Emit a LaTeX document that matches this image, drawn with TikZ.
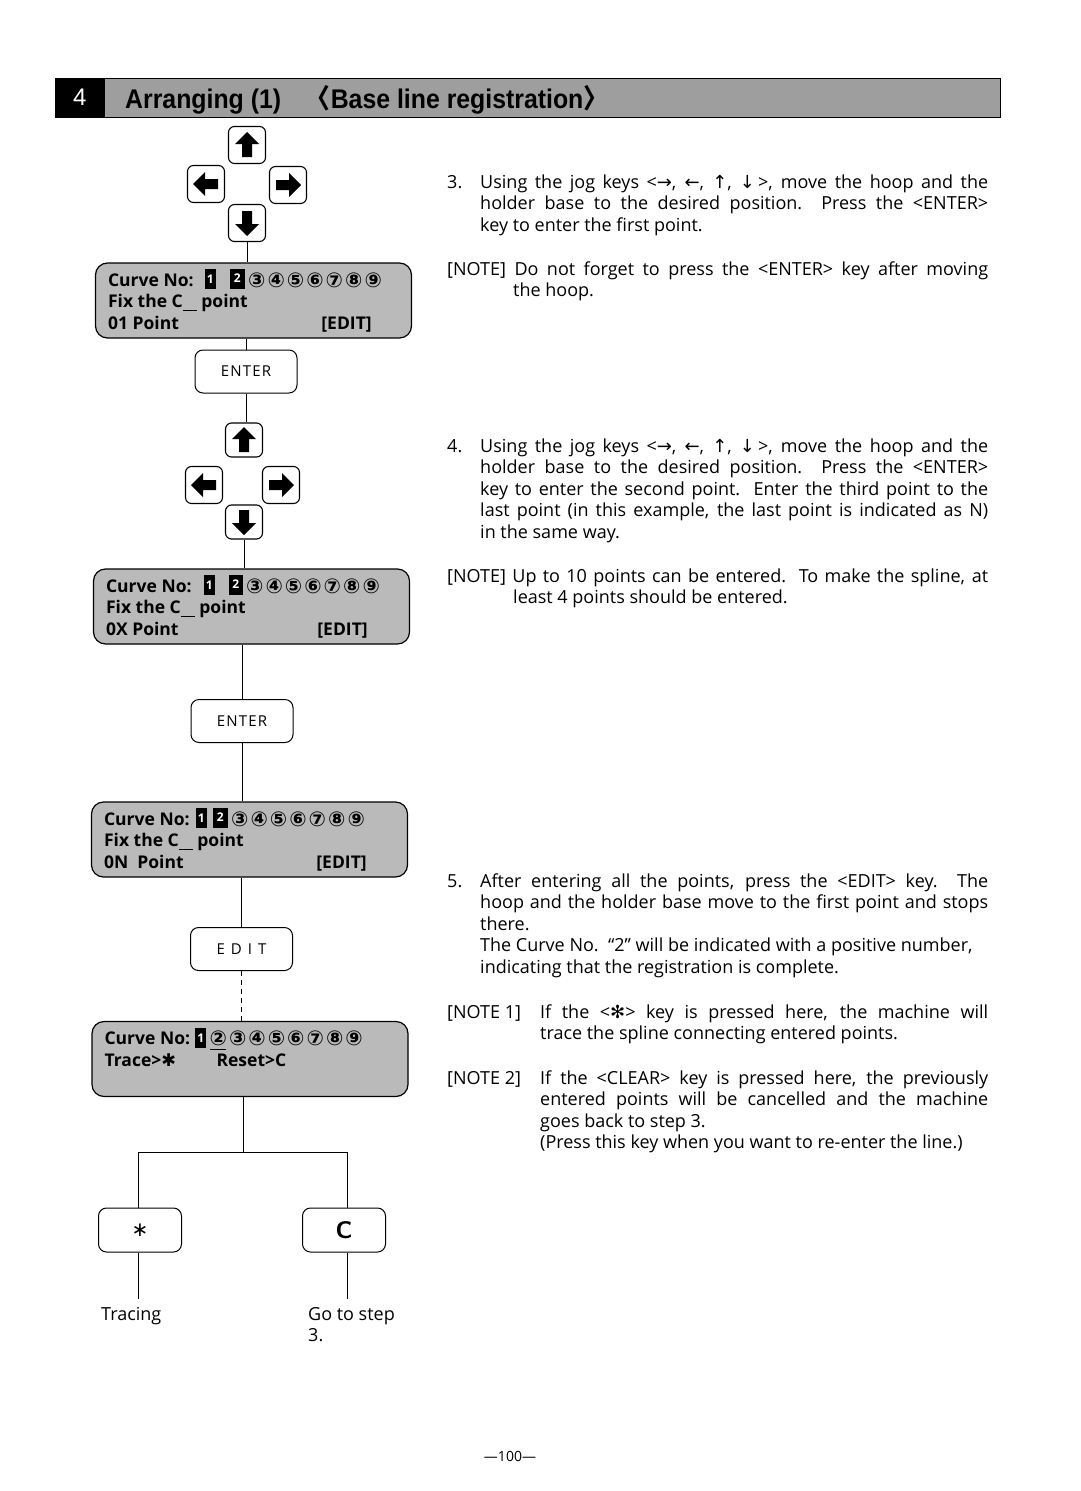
\documentclass[tikz,border=0pt]{standalone}
\usepackage{fontspec}
\setmainfont{Open Sans}
\newfontfamily\sym{DejaVu Sans}
\newfontfamily\tfont{Liberation Sans}
\newfontfamily\cjk{Noto Sans CJK SC}
\hyphenpenalty=10000
\exhyphenpenalty=10000
\tikzset{
  key/.style={draw, line width=1.1pt, rounded corners=6pt, minimum width=37pt, minimum height=37pt, inner sep=0pt},
  keyb/.style={key, minimum height=34pt},
  btn/.style={draw, line width=1pt, rounded corners=8pt, minimum width=102pt, minimum height=43pt, inner sep=0pt,
    font=\fontsize{15}{15}\selectfont\addfontfeatures{LetterSpace=8}},
  btnb/.style={draw, line width=1pt, rounded corners=8pt, minimum width=83pt, minimum height=44pt, inner sep=0pt},
  lcd/.style={draw, line width=1.2pt, rounded corners=12pt, fill=black!27, minimum width=316pt, minimum height=75pt, inner sep=0pt},
  wire/.style={line width=0.9pt},
  body/.style={font=\fontsize{18}{21.5}\selectfont, anchor=north west, inner sep=0pt, align=justify},
  lbl/.style={font=\fontsize{18}{21.5}\selectfont, anchor=north west, inner sep=0pt},
  lcdtxt/.style={font=\fontsize{17.5}{17.5}\bfseries\selectfont, anchor=base west, inner sep=0pt},
  inv/.style={font=\fontsize{12}{12}\bfseries\selectfont, text=white, inner sep=0pt},
  circ/.style={font=\sym\bfseries\fontsize{20.5}{20.5}\selectfont, anchor=base west, inner sep=0pt},
  plain/.style={font=\fontsize{18}{21.5}\selectfont, anchor=north west, inner xsep=0pt, inner ysep=6pt, align=left},
}
\newcommand\jogarr[2]{\fill[shift={(#1.center)}, rotate=#2] (0,-13) -- (-12,-1) -- (-5,-1) -- (-5,12) -- (5,12) -- (5,-1) -- (12,-1) -- cycle;}
\newcommand\circrow[4]{\foreach \d [count=\i from 0] in {#4} {\node[circ] (#1\i) at ({#2+\i*19.4},#3) {\d};}}
\begin{document}
\begin{tikzpicture}[x=1pt,y=-1pt]
\useasboundingbox (0,0) rectangle (1080,1491);
\fill[white] (0,0) rectangle (1080,1491);

% ---------- title bar
\node[draw, line width=0.8pt, fill=black!38, minimum width=945pt, minimum height=39pt, inner sep=0pt] (bar) at (527.5,97.5) {};
\node[fill=black, minimum width=50pt, minimum height=39pt, anchor=west, inner sep=0pt,
      font=\tfont\fontsize{24}{24}\selectfont, text=white] (num) at (bar.west) {4};
\node[anchor=base west, inner sep=0pt, font=\tfont\bfseries\fontsize{27}{27}\selectfont, xscale=0.92] (ttl) at (125,108)
  {Arranging (1)\quad{\cjk 〈}Base line registration{\cjk 〉}};

% ---------- jog keys 1
\node[key] (u1) at (247,145) {};
\node[key] (l1) at (206,184) {};
\node[key] (r1) at (288,185) {};
\node[key] (d1) at (247,223) {};
\jogarr{u1}{0}\jogarr{l1}{90}\jogarr{r1}{-90}\jogarr{d1}{180}

% ---------- LCD 1
\node[lcd] (lcd1) at (253.5,300.5) {};
\begin{scope}[shift={(lcd1.north west)}]
  \node[lcdtxt] (a1) at (13,24) {Curve No:};
  \fill (110,7) rectangle (121,27); \node[inv] (a1x) at (115.5,17) {1};
  \fill (135,7) rectangle (150,27); \node[inv] (a1y) at (142.5,16) {2};
  \circrow{a1c}{153}{25}{③,④,⑤,⑥,⑦,⑧,⑨}
  \node[lcdtxt] (a2) at (13,45) {Fix the C\rule[-4pt]{14pt}{1.4pt}\ point};
  \node[lcdtxt] (a3) at (13,67) {01 Point};
  \node[lcdtxt, anchor=base east] (a4) at (277,67) {[EDIT]};
\end{scope}

\node[btn] (ent1) at (246,371.5) {ENTER};

% ---------- jog keys 2
\node[keyb] (u2) at (244,440) {};
\node[key] (l2) at (204,485) {};
\node[key] (r2) at (281,485) {};
\node[keyb] (d2) at (244,522) {};
\jogarr{u2}{0}\jogarr{l2}{90}\jogarr{r2}{-90}\jogarr{d2}{180}

% ---------- LCD 2
\node[lcd] (lcd2) at (251.5,606.5) {};
\begin{scope}[shift={(lcd2.north west)}]
  \node[lcdtxt] (b1) at (13,24) {Curve No:};
  \fill (111,7) rectangle (122,27); \node[inv] (b1x) at (116.5,17) {1};
  \fill (136,7) rectangle (150,27); \node[inv] (b1y) at (143,16) {2};
  \circrow{b1c}{153}{25}{③,④,⑤,⑥,⑦,⑧,⑨}
  \node[lcdtxt] (b2) at (13,45) {Fix the C\rule[-4pt]{14pt}{1.4pt}\ point};
  \node[lcdtxt] (b3) at (13,67) {0X Point};
  \node[lcdtxt, anchor=base east] (b4) at (275,67) {[EDIT]};
\end{scope}

\node[btn] (ent2) at (242,721) {ENTER};

% ---------- LCD 3
\node[lcd] (lcd3) at (249.5,839.5) {};
\begin{scope}[shift={(lcd3.north west)}]
  \node[lcdtxt] (c1) at (13,24) {Curve No:};
  \fill (105,7) rectangle (116,27); \node[inv] (c1x) at (110.5,17) {1};
  \fill (122,7) rectangle (137,27); \node[inv] (c1y) at (129.5,16) {2};
  \circrow{c1c}{140}{25}{③,④,⑤,⑥,⑦,⑧,⑨}
  \node[lcdtxt] (c2) at (13,45) {Fix the C\rule[-4pt]{14pt}{1.4pt}\ point};
  \node[lcdtxt] (c3) at (13,67) {0N\ \ Point};
  \node[lcdtxt, anchor=base east] (c4) at (276,67) {[EDIT]};
\end{scope}

\node[btn, font=\fontsize{15}{15}\selectfont\addfontfeatures{LetterSpace=40}] (edit) at (241.5,949) {EDIT};

% ---------- LCD 4
\node[lcd] (lcd4) at (250,1059) {};
\begin{scope}[shift={(lcd4.north west)}]
  \node[lcdtxt] (e1) at (13,24) {Curve No:};
  \fill (104,7) rectangle (115,27); \node[inv] (e1x) at (109.5,17) {1};
  \circrow{e1c}{118}{25}{②,③,④,⑤,⑥,⑦,⑧,⑨}
  \draw[line width=1.4pt] (119,28.5) -- (135,28.5);
  \node[lcdtxt] (e2) at (13,46) {Trace>{\sym ✱}};
  \node[lcdtxt] (e3) at (125,46) {Reset>C};
\end{scope}

% ---------- final keys
\coordinate (j) at (243,1152);
\coordinate (jl) at (138,1152);
\coordinate (jr) at (347,1152);
\node[btnb, font=\sym\fontsize{20}{20}\selectfont] (star) at (140,1230) {∗};
\node[btnb, font=\sffamily\bfseries\fontsize{24}{24}\selectfont] (ckey) at (344,1230) {C};
\node[plain] (trace) at (101,1299) {\strut Tracing};
\node[plain] (goto) at (308,1299) {\strut Go to step\\3.};

% ---------- connectors
\draw[wire] (d1.south) -- (d1.south |- lcd1.north);
\draw[wire] (ent1.north |- lcd1.south) -- (ent1.north);
\draw[wire] (ent1.south) -- (ent1.south |- u2.north);
\draw[wire] (d2.south) -- (d2.south |- lcd2.north);
\draw[wire] (ent2.north |- lcd2.south) -- (ent2.north);
\draw[wire] (ent2.south) -- (ent2.south |- lcd3.north);
\draw[wire] (edit.north |- lcd3.south) -- (edit.north);
\draw[wire, dash pattern=on 5pt off 4pt] (edit.south) -- (edit.south |- lcd4.north);
\draw[wire] (j |- lcd4.south) -- (j);
\draw[wire] (jl |- star.north) -- (jl) -- (jr) -- (jr |- ckey.north);
\draw[wire] (jl |- star.south) -- (jl |- trace.north);
\draw[wire] (jr |- ckey.south) -- (jr |- goto.north);

% ---------- text column
\node[lbl] (n3) at (447,173) {\strut 3.};
\node[body, text width=508pt] (s3) at (480,173) {\strut Using the jog keys <{\sym→}, {\sym←}, {\sym↑}, {\sym↓}\,>, move the hoop and the\linebreak
holder base to the desired position.\ \ Press the <ENTER>\linebreak key to enter the first point.};

\node[body, text width=475pt] (nt3) at (513,260) {\strut\hspace*{-66pt}[NOTE] Do not forget to press the <ENTER> key after moving\linebreak the hoop.};

\node[lbl] (n4) at (447,437) {\strut 4.};
\node[body, text width=508pt] (s4) at (480,437) {\strut Using the jog keys <{\sym→}, {\sym←}, {\sym↑}, {\sym↓}\,>, move the hoop and the\linebreak
holder base to the desired position.\ \ Press the <ENTER>\linebreak
key to enter the second point.\ \ Enter the third point to the\linebreak
last point (in this example, the last point is indicated as N)\linebreak in the same way.};

\node[body, text width=475pt] (nt4) at (513,567) {\strut\hspace*{-66pt}[NOTE] Up to 10 points can be entered.\ \ To make the spline, at\linebreak least 4 points should be entered.};

\node[lbl] (n5) at (447,872) {\strut 5.};
\node[body, text width=508pt] (s5) at (480,872) {\strut After entering all the points, press the <EDIT> key.\ \ The\linebreak
hoop and the holder base move to the first point and stops\linebreak there.\\
The Curve No.\ \ “2” will be indicated with a positive number,\\ indicating that the registration is complete.};

\node[lbl] (m1) at (447,1003) {\strut [NOTE 1]};
\node[body, text width=448pt] (t1) at (540,1003) {\strut If the <{\sym✻}> key is pressed here, the machine will\linebreak trace the spline connecting entered points.};

\node[lbl] (m2) at (447,1069) {\strut [NOTE 2]};
\node[body, text width=448pt] (t2) at (540,1069) {\strut If the <CLEAR> key is pressed here, the previously\linebreak
entered points will be cancelled and the machine\linebreak goes back to step 3.\\
(Press this key when you want to re-enter the line.)};

% ---------- page number
\node[font=\fontsize{14}{14}\selectfont, inner sep=0pt] (pg) at (510,1456) {—100—};
\end{tikzpicture}
\end{document}
